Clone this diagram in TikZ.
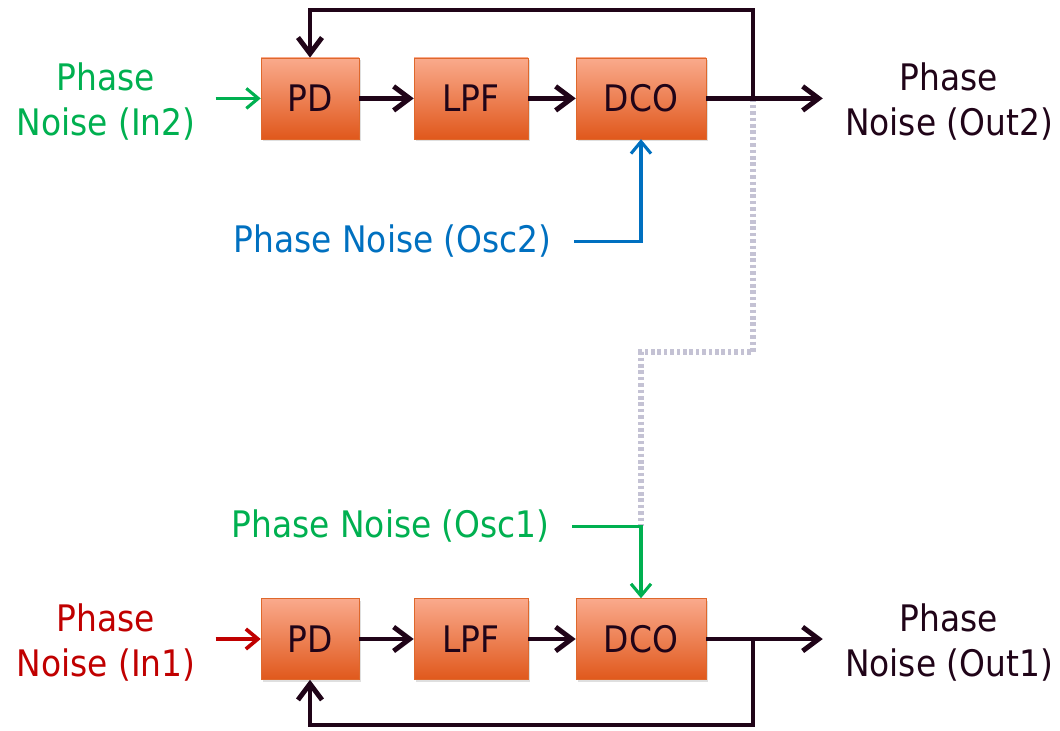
\documentclass[tikz,border=0pt]{standalone}
\usepackage{fontspec}
\setmainfont{DejaVu Sans}[FakeStretch=0.9]
\usetikzlibrary{arrows.meta, positioning, math, calc, shadows}

\definecolor{lineDark}{RGB}{32,4,24}
\definecolor{boxTop}{RGB}{250,170,140}
\definecolor{boxBottom}{RGB}{224,88,28}
\definecolor{boxEdge}{RGB}{222,104,44}
\definecolor{noiseGreen}{RGB}{0,176,80}
\definecolor{noiseBlue}{RGB}{0,112,192}
\definecolor{noiseRed}{RGB}{192,0,0}
\definecolor{dotGray}{RGB}{196,194,212}

\begin{document}
\begin{tikzpicture}[font=\fontsize{26}{32}\selectfont]
			\tikzmath{
				\boxH  = 2.025;  %block height
				\yTop  = -2.46;  %upper loop
				\yBot  = -15.975; %lower loop
				\xTap  = 18.825; %feedback branch
				\lblDy = -0.08;  %labels sit a bit lower
			}
			\tikzstyle{Block} = [
				minimum height=\boxH cm,
				inner sep=0pt,
				text=lineDark,
				draw=boxEdge,
				top color=boxTop,
				bottom color=boxBottom,
				drop shadow={opacity=0.25, shadow xshift=0.06, shadow yshift=-0.06}
			]
			\tikzstyle{Label} = [align=center, inner sep=0pt]
			\tikzstyle{Wire} = [draw=lineDark, line width=3.5pt, -{Straight Barb[length=0.4cm, width=0.6cm]}]
			\tikzstyle{NoiseIn} = [line width=2.2pt, -{Straight Barb[length=0.3cm, width=0.5cm]}]

			\useasboundingbox (0,0) rectangle (26.5,-18.275);

			% upper loop
			\node (pd2) [Block, minimum width=2.45cm] at (7.75,\yTop) {PD};
			\node (lpf2) [Block, minimum width=2.85cm] at (11.775,\yTop) {LPF};
			\node (dco2) [Block, minimum width=3.25cm] at (16.025,\yTop) {DCO};
			\node (in2) [Label, text=noiseGreen] at (2.65,\yTop+\lblDy) {Phase\\Noise (In2)};
			\node (out2) [Label, text=lineDark] at (23.725,\yTop+\lblDy) {Phase\\Noise (Out2)};
			\node (osc2) [Label, text=noiseBlue, anchor=east] at (13.8,-6.03) {Phase Noise (Osc2)};

			% lower loop
			\node (pd1) [Block, minimum width=2.45cm] at (7.75,\yBot) {PD};
			\node (lpf1) [Block, minimum width=2.85cm] at (11.775,\yBot) {LPF};
			\node (dco1) [Block, minimum width=3.25cm] at (16.025,\yBot) {DCO};
			\node (in1) [Label, text=noiseRed] at (2.65,\yBot+\lblDy) {Phase\\Noise (In1)};
			\node (out1) [Label, text=lineDark] at (23.725,\yBot+\lblDy) {Phase\\Noise (Out1)};
			\node (osc1) [Label, text=noiseGreen, anchor=east] at (13.75,-13.16) {Phase Noise (Osc1)};

			\coordinate (tap2) at (\xTap,\yTop);
			\coordinate (tap1) at (\xTap,\yBot);
			\coordinate (fb2) at (\xTap,-0.25);
			\coordinate (fb1) at (\xTap,-18.125);
			\coordinate (dotMid) at (\xTap,-8.8);
			\coordinate (osc1Corner) at (dco1 |- osc1);

			% coupling between the loops
			\draw [dotGray, line width=4pt, dash pattern=on 0.09cm off 0.07cm]
				(tap2) -- (dotMid) -| (osc1Corner);

			\draw [Wire] (pd2) -- (lpf2);
			\draw [Wire] (lpf2) -- (dco2);
			\draw [Wire, shorten >=0.55cm] (dco2) -- (dco2 -| out2.west);
			\draw [Wire] (tap2) -- (fb2) -| (pd2);
			\draw [Wire] (pd1) -- (lpf1);
			\draw [Wire] (lpf1) -- (dco1);
			\draw [Wire, shorten >=0.55cm] (dco1) -- (dco1 -| out1.west);
			\draw [Wire] (tap1) -- (fb1) -| (pd1);

			\draw [NoiseIn, noiseGreen, shorten <=0.5cm] (in2.east |- pd2) -- (pd2);
			\draw [NoiseIn, noiseRed, line width=2.6pt, shorten <=0.5cm] (in1.east |- pd1) -- (pd1);
			\draw [NoiseIn, noiseBlue, shorten <=0.55cm] (osc2) -| (dco2);
			\draw [NoiseIn, noiseGreen, shorten <=0.55cm] (osc1) -| (dco1);
		\end{tikzpicture}
\end{document}
